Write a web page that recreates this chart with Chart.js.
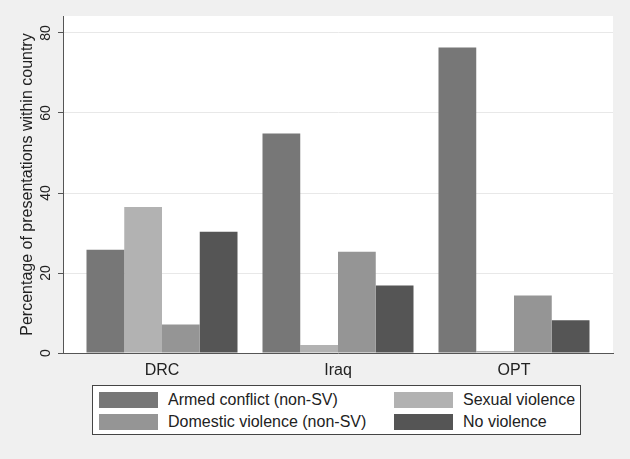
<!DOCTYPE html>
<html>
<head>
<meta charset="utf-8">
<script src="https://cdn.jsdelivr.net/npm/chart.js@4"></script>
<style>
  body { margin: 0; background: #f0f0f0; font-family: "Liberation Sans", Arial, Helvetica, sans-serif; }
  #wrap { position: relative; width: 630px; height: 459px; }
  #legend {
    position: absolute; left: 92px; top: 385px; width: 489px; height: 50px;
    background: #fff; border: 1px solid #444;
    display: grid; grid-template-columns: 295px 190px; grid-auto-rows: 22px;
    padding: 6px 0 0 6px; box-sizing: border-box;
  }
  .item { display: flex; align-items: center; height: 16px; font-size: 16px; color: #222; white-space: nowrap; }
  .swatch { width: 59px; height: 16px; margin-right: 10px; flex: none; }
</style>
</head>
<body>
<div id="wrap">
  <canvas id="chart" width="630" height="459"></canvas>
  <div id="legend"></div>
</div>
<script>
// categories and series (percent of presentations within country)
var countries = ['DRC', 'Iraq', 'OPT'];
var armedConflict = [25.8, 54.9, 76.4];
var sexualViolence = [36.5, 2.0, 0.5];
var domesticViolence = [7.1, 25.3, 14.4];
var noViolence = [30.3, 16.9, 8.2];
var yTicks = [0, 20, 40, 60, 80];

var seriesNames = ['Armed conflict (non-SV)', 'Sexual violence', 'Domestic violence (non-SV)', 'No violence'];
var seriesValues = [armedConflict, sexualViolence, domesticViolence, noViolence];
var seriesColors = ['#777777', '#b2b2b2', '#959595', '#555555'];

var fontFamily = '"Liberation Sans", Arial, Helvetica, sans-serif';

// white plot region behind the bars
var plotBackground = {
    id: 'plotBackground',
    beforeDraw: function (chart) {
        var a = chart.chartArea;
        var ctx = chart.ctx;
        ctx.save();
        ctx.fillStyle = '#ffffff';
        ctx.fillRect(a.left, a.top, a.right - a.left, a.bottom - a.top);
        ctx.restore();
    }
};

var datasets = seriesNames.map(function (name, s) {
    return {
        label: name,
        data: seriesValues[s].map(function (v, i) { return { x: i, y: v }; }),
        backgroundColor: seriesColors[s],
        borderWidth: 0,
        categoryPercentage: 0.858,
        barPercentage: 1
    };
});

new Chart(document.getElementById('chart'), {
    type: 'bar',
    data: { datasets: datasets },
    options: {
        responsive: false,
        animation: false,
        layout: { padding: { top: 16, right: 17, left: 0, bottom: 0 } },
        plugins: {
            legend: { display: false },
            tooltip: { enabled: false }
        },
        scales: {
            x: {
                type: 'linear',
                offset: false,
                min: -0.5625,
                max: 2.5625,
                afterBuildTicks: function (axis) {
                    axis.ticks = countries.map(function (c, i) { return { value: i }; });
                },
                afterFit: function (axis) { axis.height = 106; },
                grid: { display: false, drawTicks: false },
                border: { display: true, color: '#555555', width: 1 },
                ticks: {
                    padding: 8,
                    color: '#222',
                    font: { family: fontFamily, size: 16 },
                    callback: function (v) { return countries[v]; }
                }
            },
            y: {
                min: 0,
                max: 84.25,
                afterBuildTicks: function (axis) {
                    axis.ticks = yTicks.map(function (v) { return { value: v }; });
                },
                afterFit: function (axis) { axis.width = 63; },
                grid: { color: '#e8e8e8', tickColor: '#555555', tickLength: 5, drawTicks: true },
                border: { display: true, color: '#555555', width: 1 },
                ticks: {
                    minRotation: 90,
                    maxRotation: 90,
                    crossAlign: 'center',
                    padding: 4,
                    color: '#222',
                    font: { family: fontFamily, size: 14 }
                },
                title: {
                    display: true,
                    text: 'Percentage of presentations within country',
                    color: '#222',
                    font: { family: fontFamily, size: 16 },
                    padding: { top: 18, bottom: 0 }
                }
            }
        }
    },
    plugins: [plotBackground]
});

// legend box, two columns like the original
var legend = document.getElementById('legend');
seriesNames.forEach(function (name, s) {
    var item = document.createElement('div');
    item.className = 'item';
    var sw = document.createElement('span');
    sw.className = 'swatch';
    sw.style.background = seriesColors[s];
    item.appendChild(sw);
    item.appendChild(document.createTextNode(name));
    legend.appendChild(item);
});
</script>
</body>
</html>
